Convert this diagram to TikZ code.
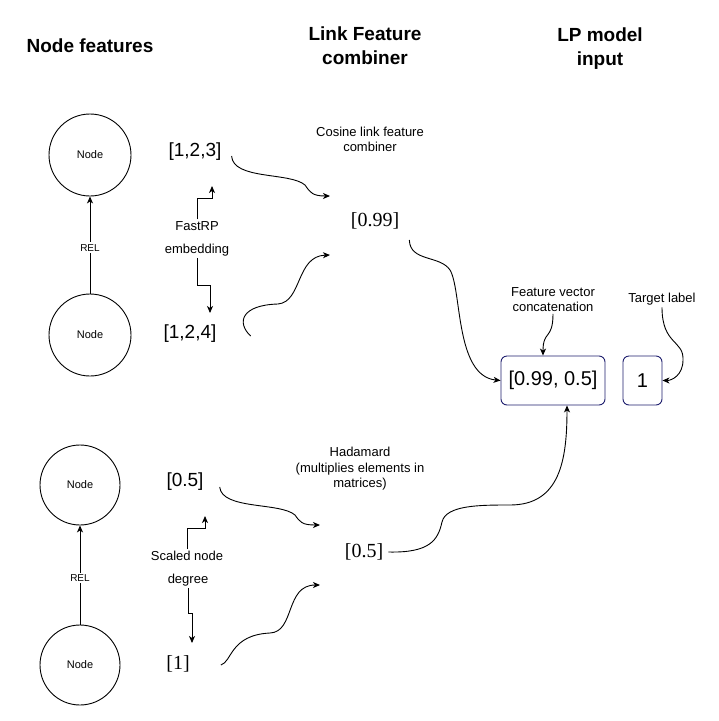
\documentclass[tikz,border=0pt]{standalone}
\usepackage{fontspec}
\setmainfont{Liberation Sans}
\newfontfamily\timesfont{Liberation Serif}
\usetikzlibrary{arrows.meta}
\definecolor{boxblue}{RGB}{30,30,110}
\tikzset{
  arr/.style={draw,line width=0.9pt,-{Stealth[length=7pt,width=6pt,inset=2pt]}},
  ln/.style={draw,line width=0.9pt},
  nodecircle/.style={draw,circle,line width=0.9pt,inner sep=0pt,font=\fontsize{11}{13}\selectfont},
  title/.style={align=center,font=\fontsize{19}{24}\selectfont\bfseries},
  small/.style={align=center,inner sep=2pt,font=\fontsize{13}{15.5}\selectfont},
  vec/.style={inner sep=1pt,font=\fontsize{19}{22}\selectfont},
  res/.style={inner sep=1pt,font=\fontsize{20}{22}\timesfont},
  rel/.style={fill=white,inner sep=2pt,font=\fontsize{10}{12}\selectfont},
  box/.style={draw=boxblue,line width=0.9pt,rounded corners=6pt,minimum height=49pt,font=\fontsize{20}{22}\selectfont}
}
\begin{document}
\begin{tikzpicture}[x=1pt,y=-1pt]
\useasboundingbox[fill=white] (0,0) rectangle (719,721);

% titles
\node[title] (t1) at (90,46) {Node features};
\node[title] (t2) at (365,46) {Link Feature\\combiner};
\node[title] (t3) at (600,49) {LP model\\input};

% first pair of nodes
\node[nodecircle,minimum size=82pt] (1) at (90,155) {Node};
\node[nodecircle,minimum size=82pt] (2) at (90,335) {Node};
\path[arr] (2) -- node[rel,pos=0.47] {REL} (1);

\node[vec] (v1) at (195,152) {[1,2,3]};
\node[vec] (v2) at (190,334) {[1,2,4]};
\node[small] (rp) at (197,226) {FastRP};
\node[small] (emb) at (197,250) {embedding};
\coordinate (rpup) at (212,186);
\coordinate (rpdown) at (210,313);
\path[arr] (rp.north) -- ++(0,-21) -| (rpup);
\path[arr] (emb.south) -- ++(0,27) -| (rpdown);

\node[small] (cos) at (370,139.5) {Cosine link feature\\combiner};
\node[res] (r1) at (375,221) {[0.99]};
\coordinate (c1) at (330,196);
\coordinate (c2) at (330,255);
\path[arr] (v1.east) ++(9,4) .. controls (233,180) and (290,172) .. (305,185) .. controls (310,192) and (312,196) .. (c1);
\path[arr] (v2.east) ++(33,2) .. controls (236,322) and (242,305) .. (278,304) .. controls (302,302) and (296,256) .. (c2);

% model input
\node[box,minimum width=104pt] (in) at (553,380.5) {[0.99, 0.5]};
\node[box,minimum width=39pt] (lab) at (642.5,380.5) {1};
\node[small] (cat) at (553,299.5) {Feature vector\\concatenation};
\node[small] (tgt) at (662,299) {Target label};
\path[arr] (r1.east) ++(9,19) .. controls (410,262) and (440,255) .. (450,270) .. controls (462,290) and (455,376) .. (in.west);
\path[arr] (cat.south) .. controls (553,340) and (543,330) .. ([xshift=-10pt]in.north);
\path[arr] (tgt.south) .. controls (662,345) and (684,340) .. (683,360) .. controls (683,375) and (672,380.5) .. (lab.east);

% second pair of nodes
\node[nodecircle,minimum size=80pt] (3) at (80,485) {Node};
\node[nodecircle,minimum size=80pt] (4) at (80,665) {Node};
\path[arr] (4) -- node[rel,pos=0.47] {REL} (3);

\node[vec] (v3) at (185,482) {[0.5]};
\node[res] (v4) at (178,664) {[1]};
\node[small] (sc) at (187,556) {Scaled node};
\node[small] (deg) at (188,580) {degree};
\coordinate (scup) at (205,516);
\coordinate (scdown) at (192,643);
\path[arr] (sc.north) -- ++(0,-21) -| (scup);
\path[arr] (deg.south) -- ++(0,25) -| (scdown);

\node[small] (had) at (360,469) {Hadamard\\(multiplies elements in\\matrices)};
\node[res] (r2) at (364,552) {[0.5]};
\coordinate (c3) at (320,525);
\coordinate (c4) at (320,585);
\path[arr] (v3.east) ++(15,5) .. controls (222,510) and (280,502) .. (295,515) .. controls (300,522) and (302,525) .. (c3);
\path[arr] (v4.east) ++(30,1) .. controls (232,662) and (230,635) .. (270,633) .. controls (295,632) and (285,585) .. (c4);
\path[arr] (r2.east) ++(4,0) .. controls (430,553) and (438,540) .. (442,522) .. controls (446,505) and (480,505) .. (510,505) .. controls (560,505) and (567,460) .. ([xshift=14pt]in.south);
\end{tikzpicture}
\end{document}
